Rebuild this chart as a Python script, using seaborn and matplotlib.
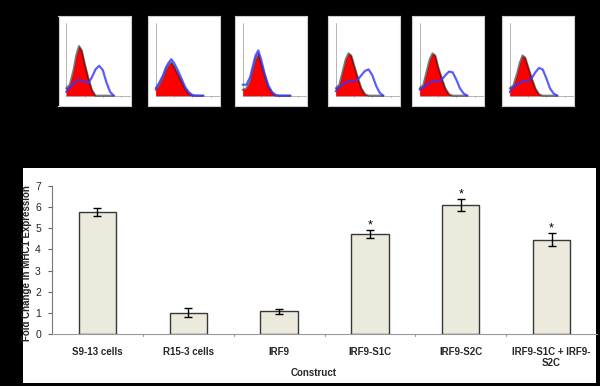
import matplotlib
matplotlib.use("Agg")
import matplotlib.pyplot as plt
import seaborn as sns
import pandas as pd

# ---------------- data ----------------
constructs = ["S9-13 cells", "R15-3 cells", "IRF9", "IRF9-S1C", "IRF9-S2C",
              "IRF9-S1C + IRF9-\nS2C"]
fold_change = [5.75, 1.02, 1.08, 4.72, 6.07, 4.46]
fold_err = [0.2, 0.2, 0.12, 0.2, 0.28, 0.31]
significant = [False, False, False, True, True, True]
y_ticks = [0, 1, 2, 3, 4, 5, 6, 7]

# flow cytometry histogram insets (log10 fluorescence, relative counts)
hist_x = [0, 0.2, 0.4, 0.55, 0.7, 0.85, 1.0, 1.2, 1.4, 1.6, 1.8, 2.0, 2.2, 2.4, 2.6]
red_s913 = [0.10, 0.15, 0.35, 0.55, 0.68, 0.62, 0.45, 0.25, 0.08, 0.0, 0, 0, 0, 0, 0]
blue_s913 = [0.05, 0.12, 0.16, 0.20, 0.22, 0.20, 0.20, 0.17, 0.25, 0.36, 0.41, 0.35, 0.18, 0.05, 0]
red_r153 = [0.08, 0.15, 0.25, 0.35, 0.42, 0.46, 0.40, 0.30, 0.20, 0.10, 0.03, 0, 0, 0, 0]
blue_r153 = [0.10, 0.18, 0.28, 0.38, 0.45, 0.50, 0.45, 0.35, 0.24, 0.12, 0.05, 0.01, 0, 0, 0]
red_irf9 = [0.08, 0.10, 0.20, 0.35, 0.50, 0.58, 0.45, 0.28, 0.12, 0.04, 0, 0, 0, 0, 0]
blue_irf9 = [0.15, 0.15, 0.25, 0.40, 0.55, 0.62, 0.50, 0.30, 0.14, 0.05, 0.01, 0, 0, 0, 0]
red_s1c = [0.10, 0.15, 0.35, 0.50, 0.58, 0.55, 0.42, 0.25, 0.10, 0.02, 0, 0, 0, 0, 0]
blue_s1c = [0.06, 0.12, 0.16, 0.18, 0.20, 0.20, 0.20, 0.22, 0.28, 0.34, 0.36, 0.28, 0.14, 0.04, 0]
red_s2c = [0.10, 0.15, 0.35, 0.50, 0.58, 0.55, 0.40, 0.24, 0.10, 0.02, 0, 0, 0, 0, 0]
blue_s2c = [0.08, 0.12, 0.15, 0.18, 0.20, 0.20, 0.19, 0.22, 0.28, 0.33, 0.32, 0.22, 0.10, 0.03, 0]
red_combo = [0.10, 0.14, 0.30, 0.45, 0.55, 0.52, 0.40, 0.24, 0.10, 0.02, 0, 0, 0, 0, 0]
blue_combo = [0.05, 0.12, 0.15, 0.18, 0.20, 0.20, 0.20, 0.24, 0.32, 0.38, 0.36, 0.24, 0.10, 0.03, 0]

insets = [(red_s913, blue_s913), (red_r153, blue_r153), (red_irf9, blue_irf9),
          (red_s1c, blue_s1c), (red_s2c, blue_s2c), (red_combo, blue_combo)]
inset_left_px = [58.5, 148, 235, 328, 412, 502]

# ---------------- figure ----------------
sns.set_theme(style="white")
plt.rcParams['font.family'] = ['Liberation Sans', 'DejaVu Sans']

W, H = 600, 386
fig = plt.figure(figsize=(6.0, 3.86), dpi=100, facecolor="black")

def fx(px):
    return px / W

def fy(py):
    return 1 - py / H

# white panel behind the bar chart
panel = fig.add_axes([fx(23), fy(383), fx(596) - fx(23), fy(168) - fy(383)])
panel.set_facecolor("white")
panel.set_xticks([])
panel.set_yticks([])
for s in panel.spines.values():
    s.set_visible(False)
panel.set_zorder(-5)

# insets
box_w, box_h, box_top = 72, 90, 15.7
for (red, blue), lpx in zip(insets, inset_left_px):
    iax = fig.add_axes([fx(lpx), fy(box_top + box_h), box_w / W, box_h / H])
    iax.set_facecolor("white")
    iax.set_xlim(-0.42, 3.51)
    iax.set_ylim(-0.137, 1.096)
    iax.set_xticks([])
    iax.set_yticks([])
    for s in iax.spines.values():
        s.set_color("#cccccc")
        s.set_linewidth(0.8)
    iax.plot([0, 0], [0, 1], color="#999999", lw=0.5)
    iax.plot([0, 3.5], [0, 0], color="#999999", lw=0.5)
    for d in [1, 2, 3]:
        iax.plot([d, d], [0, -0.015], color="#999999", lw=0.5)
    iax.fill_between(hist_x, red, 0, color="#ff0000", lw=0, zorder=2)
    iax.plot(hist_x, red, color="#202020", lw=1.5, alpha=0.6, zorder=3)
    iax.plot(hist_x, blue, color="#3535ff", lw=1.6, alpha=0.8, zorder=4)

# bar chart
ax = fig.add_axes([fx(52), fy(334.3), fx(597) - fx(52), fy(185.7) - fy(334.3)])
ax.set_zorder(2)
ax.set_facecolor("none")
df = pd.DataFrame({"Construct": constructs, "Fold": fold_change})
sns.barplot(data=df, x="Construct", y="Fold", ax=ax, color="#ECE9DD",
            saturation=1, width=0.41, edgecolor="#383838", linewidth=1.0,
            errorbar=None)
ax.errorbar(range(len(constructs)), fold_change, yerr=fold_err, fmt="none",
            ecolor="black", elinewidth=1.0, capsize=3, capthick=1.0)
for i, (v, e, s) in enumerate(zip(fold_change, fold_err, significant)):
    if s:
        ax.text(i, v + e + 0.08, "*", ha="center", va="baseline", fontsize=9,
                color="black", clip_on=False)

ax.set_ylim(0, 7)
ax.set_xlim(-0.5, len(constructs) - 0.5)
ax.set_yticks(y_ticks)
ax.set_yticklabels([str(t) for t in y_ticks], fontsize=7.5)
ax.set_xticks(range(len(constructs)))
ax.set_xticklabels(constructs, fontsize=7, fontweight="bold", linespacing=1.15)
ax.tick_params(axis="x", length=0, pad=9)
ax.tick_params(axis="y", length=3, width=0.8, color="#666666", pad=5, left=True)
for b in [0.5, 1.5, 2.5, 3.5, 4.5]:
    ax.plot([b, b], [0, -0.1], color="#999999", lw=0.8, clip_on=False)
for side in ["top", "right"]:
    ax.spines[side].set_visible(False)
ax.spines["left"].set_color("#777777")
ax.spines["bottom"].set_color("#999999")
ax.spines["left"].set_linewidth(0.8)
ax.spines["bottom"].set_linewidth(0.8)

ax.set_ylabel("Fold Change in MHC1 Expression", fontsize=7, fontweight="bold")
ax.yaxis.set_label_coords((32 - 52) / (597 - 52), 0.48)
ax.set_xlabel("Construct", fontsize=7, fontweight="bold")
ax.xaxis.set_label_coords((314 - 52) / (597 - 52), -0.23)

fig.savefig("out.png", dpi=100, facecolor="black")
